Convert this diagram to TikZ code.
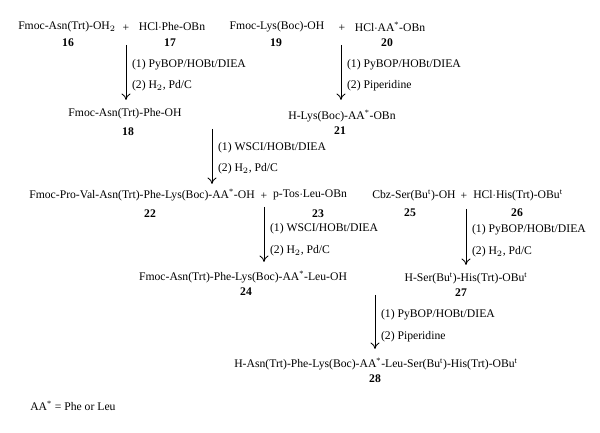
\documentclass[tikz,border=0pt]{standalone}
\usepackage{fontspec}
\setmainfont{Liberation Serif}
\usepackage{tikz}
\usetikzlibrary{arrows.meta,positioning}
\newcommand{\aastar}{AA\textsuperscript{*}}
\newcommand{\tBu}{Bu\textsuperscript{t}}

\begin{document}
\begin{tikzpicture}[x=0.25mm, y=-0.25mm,
      cpd/.style={inner sep=0pt, font=\fontsize{8.3}{10}\selectfont},
      num/.style={inner sep=0pt, font=\fontsize{8.3}{10}\selectfont\bfseries},
      cond/.style={inner sep=0pt, align=left, font=\fontsize{8.3}{15.5}\selectfont},
      rxn/.style={-{To[length=1.6mm, width=2.2mm]}, semithick}
    ]
      \useasboundingbox (0,0) rectangle (600,433);
      % first couplings
      \node[cpd] (c16) at (67,27) {Fmoc-Asn(Trt)-OH$_2$};
      \node[cpd] (pl1) at (126,28) {+};
      \node[cpd] (c17) at (172,27) {HCl$\cdot$Phe-OBn};
      \node[num] (n16) at (68,43) {16};
      \node[num] (n17) at (170,43) {17};
      \node[cpd] (c19) at (277,27) {Fmoc-Lys(Boc)-OH};
      \node[cpd] (pl2) at (342,28) {+};
      \node[cpd] (c20) at (390,27) {HCl$\cdot$\aastar-OBn};
      \node[num] (n19) at (276,43) {19};
      \node[num] (n20) at (387,43) {20};
      \node[cpd] (c18) at (125,114) {Fmoc-Asn(Trt)-Phe-OH};
      \node[num] (n18) at (128,132) {18};
      \node[cpd] (c21) at (342,116) {H-Lys(Boc)-\aastar-OBn};
      \node[num] (n21) at (340,131) {21};
      \coordinate (a1s) at (126,45);  \coordinate (a1e) at (126,100);
      \coordinate (a2s) at (341,45);  \coordinate (a2e) at (341,100);
      \draw[rxn] (a1s) -- (a1e) node[cond, right=4pt, pos=0.55] {(1) PyBOP/HOBt/DIEA\\(2) H$_2$, Pd/C};
      \draw[rxn] (a2s) -- (a2e) node[cond, right=4pt, pos=0.55] {(1) PyBOP/HOBt/DIEA\\(2) Piperidine};
      % fragment condensation
      \node[cpd] (c22) at (142,195) {Fmoc-Pro-Val-Asn(Trt)-Phe-Lys(Boc)-\aastar-OH};
      \node[cpd] (pl3) at (264,196) {+};
      \node[cpd] (c23) at (310,195) {p-Tos$\cdot$Leu-OBn};
      \node[num] (n22) at (150,214) {22};
      \node[num] (n23) at (318,214) {23};
      \coordinate (a3s) at (212,129); \coordinate (a3e) at (212,184);
      \draw[rxn] (a3s) -- (a3e) node[cond, right=4pt, pos=0.53] {(1) WSCI/HOBt/DIEA\\(2) H$_2$, Pd/C};
      \node[cpd] (c25) at (414,195) {Cbz-Ser(\tBu)-OH};
      \node[cpd] (pl4) at (464,196) {+};
      \node[cpd] (c26) at (518,195) {HCl$\cdot$His(Trt)-O\tBu};
      \node[num] (n25) at (410,213) {25};
      \node[num] (n26) at (517,213) {26};
      \node[cpd] (c24) at (243,277) {Fmoc-Asn(Trt)-Phe-Lys(Boc)-\aastar-Leu-OH};
      \node[num] (n24) at (246,292) {24};
      \node[cpd] (c27) at (466,278) {H-Ser(\tBu)-His(Trt)-O\tBu};
      \node[num] (n27) at (461,293) {27};
      \coordinate (a4s) at (264,207); \coordinate (a4e) at (264,262);
      \coordinate (a5s) at (466,209); \coordinate (a5e) at (466,265);
      \draw[rxn] (a4s) -- (a4e) node[cond, right=4pt, pos=0.6] {(1) WSCI/HOBt/DIEA\\(2) H$_2$, Pd/C};
      \draw[rxn] (a5s) -- (a5e) node[cond, right=4pt, pos=0.57] {(1) PyBOP/HOBt/DIEA\\(2) H$_2$, Pd/C};
      % final coupling
      \coordinate (a6s) at (375,295); \coordinate (a6e) at (375,349);
      \draw[rxn] (a6s) -- (a6e) node[cond, right=4pt, pos=0.57] {(1) PyBOP/HOBt/DIEA\\(2) Piperidine};
      \node[cpd] (c28) at (376,364) {H-Asn(Trt)-Phe-Lys(Boc)-\aastar-Leu-Ser(\tBu)-His(Trt)-O\tBu};
      \node[num] (n28) at (375,379) {28};
      \node[cpd, anchor=west] (note) at (30,406) {\aastar{} = Phe or Leu};
    \end{tikzpicture}
\end{document}
